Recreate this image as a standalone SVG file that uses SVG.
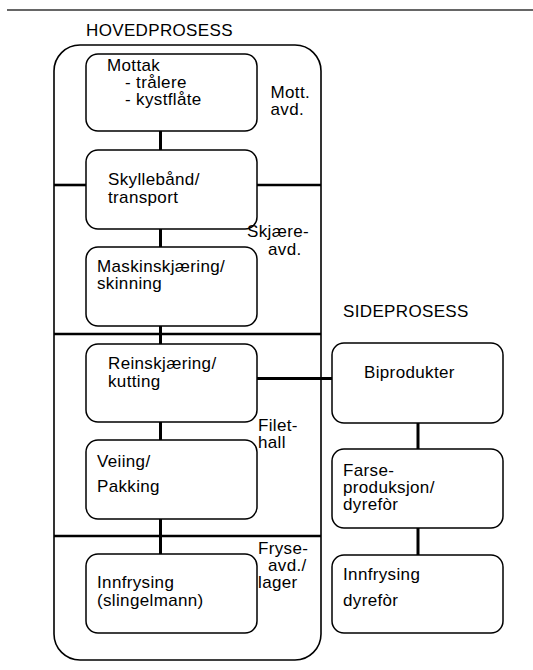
<svg xmlns="http://www.w3.org/2000/svg" width="533" height="670" viewBox="0 0 533 670">
<style>
text{font-family:"Liberation Sans",Arial,sans-serif;font-size:17px;letter-spacing:0.35px;fill:#000}
.box{fill:#fff;stroke:#000;stroke-width:1.5}
.outer{fill:none;stroke:#000;stroke-width:1.6}
.con{stroke:#000;stroke-width:3;fill:none}
.div{stroke:#000;stroke-width:2.6;fill:none}
</style>
<rect width="533" height="670" fill="#fff"/>
<line x1="7" y1="10" x2="533" y2="10" stroke="#333" stroke-width="1.5"/>
<text x="86" y="36">HOVEDPROSESS</text>
<text x="343" y="317">SIDEPROSESS</text>
<rect id="hovedprosess" class="outer" x="54" y="45" width="267" height="615" rx="26" ry="26"/>
<g id="connectors">
<line class="con" x1="160.5" y1="131" x2="160.5" y2="150"/>
<line class="con" x1="160.5" y1="229" x2="160.5" y2="247"/>
<line class="con" x1="160.5" y1="326" x2="160.5" y2="344"/>
<line class="con" x1="160.5" y1="422" x2="160.5" y2="440"/>
<line class="con" x1="160.5" y1="519" x2="160.5" y2="554"/>
<line class="div" x1="54" y1="185" x2="86" y2="185"/>
<line class="div" x1="257" y1="185" x2="321" y2="185"/>
<line class="div" x1="54" y1="334" x2="321" y2="334"/>
<line class="div" x1="54" y1="536" x2="321" y2="536"/>
<line class="con" x1="257" y1="378.5" x2="333" y2="378.5"/>
<line class="con" x1="418" y1="423" x2="418" y2="449"/>
<line class="con" x1="418" y1="528" x2="418" y2="555"/>
</g>
<g id="mottak">
<rect class="box" x="86" y="54" width="171" height="77" rx="12"/>
<text x="107" y="71">Mottak</text>
<text x="125" y="88">- trålere</text>
<text x="125" y="105">- kystflåte</text>
</g>
<g id="skyllebaand">
<rect class="box" x="86" y="150" width="171" height="79" rx="12"/>
<text x="108" y="185">Skyllebånd/</text>
<text x="108" y="203">transport</text>
</g>
<g id="maskinskjaering">
<rect class="box" x="86" y="247" width="171" height="79" rx="12"/>
<text x="97" y="272">Maskinskjæring/</text>
<text x="97" y="289">skinning</text>
</g>
<g id="reinskjaering">
<rect class="box" x="86" y="344" width="171" height="78" rx="12"/>
<text x="108" y="369">Reinskjæring/</text>
<text x="108" y="387">kutting</text>
</g>
<g id="veiing">
<rect class="box" x="86" y="440" width="171" height="79" rx="12"/>
<text x="97" y="467">Veiing/</text>
<text x="97" y="492">Pakking</text>
</g>
<g id="innfrysing">
<rect class="box" x="86" y="554" width="171" height="79" rx="12"/>
<text x="97" y="588">Innfrysing</text>
<text x="97" y="606">(slingelmann)</text>
</g>
<g id="biprodukter">
<rect class="box" x="332" y="343" width="171" height="80" rx="12"/>
<text x="364" y="378">Biprodukter</text>
</g>
<g id="farseproduksjon">
<rect class="box" x="332" y="449" width="171" height="79" rx="12"/>
<text x="343" y="476">Farse-</text>
<text x="343" y="493">produksjon/</text>
<text x="343" y="510">dyrefòr</text>
</g>
<g id="innfrysing-dyrefor">
<rect class="box" x="332" y="555" width="171" height="78" rx="12"/>
<text x="343" y="580">Innfrysing</text>
<text x="343" y="606">dyrefòr</text>
</g>
<g id="labels">
<text x="270.5" y="98">Mott.</text>
<text x="270.5" y="115">avd.</text>
<text x="247" y="237">Skjære-</text>
<text x="268" y="255">avd.</text>
<text x="258" y="431">Filet-</text>
<text x="258" y="448">hall</text>
<text x="258" y="554">Fryse-</text>
<text x="268" y="571">avd./</text>
<text x="258" y="588">lager</text>
</g>
</svg>
